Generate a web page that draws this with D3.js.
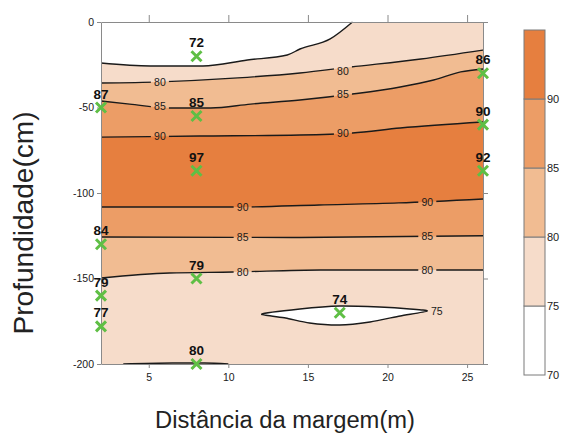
<!DOCTYPE html>
<meta charset="utf-8">
<style>
  body { margin: 0; background: #fff; }
  text { font-family: "Liberation Sans", Arial, sans-serif; }
</style>
<svg width="562" height="443"></svg>
<script src="https://d3js.org/d3.v7.min.js"></script>
<script>

    // contour section of a river bank: distance (m) vs depth (cm), value classes every 5

    // sampled points (green crosses)
    var sampleX     = [2,   8,   8,   8,   26,  26,  26,  2,    2,    2,    8,    17,   8];
    var sampleDepth = [-50, -20, -55, -87, -30, -60, -87, -130, -160, -178, -150, -170, -200];
    var sampleValue = [87,  72,  85,  97,  86,  90,  92,  84,   79,   77,   79,   74,   80];

    // contour lines, [distance, depth]
    var c75Top = [[2, -24], [5.1, -25.7], [8.4, -25.7], [11.2, -22.2], [13.7, -19.3], [14.5, -15.8], [16.4, -9.9], [17.8, 0]];
    var c80Top = [[2, -35.7], [5.7, -35], [10.6, -32.7], [14.5, -29.8], [17.7, -26.3], [22.1, -21.6], [26, -16.4]];
    var c85Top = [[2, -46.2], [3.8, -48], [6.3, -50.3], [8.9, -50.3], [11.4, -48], [14.5, -45.6], [17.8, -42.1], [20.8, -38], [22.9, -33.9], [24.6, -29.2], [26, -27.5]];
    var c90Top = [[2, -67.3], [8.2, -66.7], [14.5, -66.1], [17.8, -64.9], [20.8, -62], [26, -58.5]];
    var c90Bot = [[2, -108.2], [10.7, -108.2], [15.7, -107], [20.7, -105.8], [26, -103.5]];
    var c85Bot = [[2, -125.7], [14, -126], [26, -125]];
    var c80Bot = [[2, -149.7], [6.3, -146.8], [10.3, -146.2], [15.8, -145], [26, -145]];
    var c80Base = [[3.4, -200], [6.5, -199.4], [8.5, -199.4], [10, -200]];
    var c75Lens = [[12.1, -170.8], [14.5, -167.8], [17, -166.1], [19.5, -166.7], [21.4, -167.8], [22.5, -169],
                   [20.8, -171.9], [18.9, -175.4], [17, -177.2], [15.1, -176], [13.6, -173.1]];

    // contour labels [distance, depth, text]
    var contourLabels = [
        [5.7, -35.5, "80"], [17.2, -28.6, "80"],
        [5.7, -49.5, "85"], [17.2, -42.5, "85"],
        [5.7, -67, "90"],   [17.2, -65, "90"],
        [10.9, -108.2, "90"], [22.5, -105.3, "90"],
        [10.9, -125.9, "85"], [22.5, -125.2, "85"],
        [10.9, -146.3, "80"], [22.5, -145, "80"],
        [23.1, -169.4, "75"]
    ];

    var xTicks = [5, 10, 15, 20, 25];
    var yTicks = [0, -50, -100, -150, -200];
    var levels = [70, 75, 80, 85, 90, 95];
    var levelLabels = [70, 75, 80, 85, 90];
    var bandColors = ["#ffffff", "#f6dcca", "#f1bc92", "#ec9d66", "#e67f3f"];

    var svg = d3.select("svg");

    var x = d3.scaleLinear().domain([2, 26]).range([101, 483]);
    var y = d3.scaleLinear().domain([0, -200]).range([22, 364]);

    var line = d3.line()
        .x(function (d) { return x(d[0]); })
        .y(function (d) { return y(d[1]); })
        .curve(d3.curveMonotoneX);

    var lensLine = d3.line()
        .x(function (d) { return x(d[0]); })
        .y(function (d) { return y(d[1]); })
        .curve(d3.curveCardinalClosed.tension(0.3));

    var band = function (v) { return bandColors[levels.indexOf(v)]; };

    var plot = svg.append("g");

    // background = 75-80 class
    plot.append("rect")
        .attr("x", x(2)).attr("y", y(0))
        .attr("width", x(26) - x(2)).attr("height", y(-200) - y(0))
        .attr("fill", band(75));

    // white cap above the first 75 line
    plot.append("path")
        .attr("d", line(c75Top) + "L" + x(2) + "," + y(0) + "Z")
        .attr("fill", band(70));

    // nested bands, edges follow the same curves as the lines
    var fillBetween = function (top, bot, v) {
        plot.append("path")
            .attr("d", line(top) + "L" + line(bot.slice().reverse()).slice(1) + "Z")
            .attr("fill", band(v));
    };
    fillBetween(c80Top, c80Bot, 80);
    fillBetween(c85Top, c85Bot, 85);
    fillBetween(c90Top, c90Bot, 90);

    plot.append("path")
        .attr("d", lensLine(c75Lens))
        .attr("fill", band(70));

    // mask gaps in the lines where the labels sit
    var mask = svg.append("defs").append("mask")
        .attr("id", "gaps")
        .attr("maskUnits", "userSpaceOnUse")
        .attr("x", 0).attr("y", 0).attr("width", 562).attr("height", 443);
    mask.append("rect").attr("width", 562).attr("height", 443).attr("fill", "white");
    mask.selectAll("rect.gap")
        .data(contourLabels)
        .enter().append("rect")
        .attr("class", "gap")
        .attr("x", function (d) { return x(d[0]) - 9; })
        .attr("y", function (d) { return y(d[1]) - 5; })
        .attr("width", 18).attr("height", 10)
        .attr("fill", "black");

    var lines = svg.append("g").attr("mask", "url(#gaps)")
        .attr("fill", "none").attr("stroke", "#1a1a1a").attr("stroke-width", 1.4);

    [c75Top, c80Top, c85Top, c90Top, c90Bot, c85Bot, c80Bot, c80Base].forEach(function (c) {
        lines.append("path").attr("d", line(c));
    });
    lines.append("path").attr("d", lensLine(c75Lens));

    svg.append("g").selectAll("text")
        .data(contourLabels)
        .enter().append("text")
        .attr("x", function (d) { return x(d[0]); })
        .attr("y", function (d) { return y(d[1]); })
        .attr("dy", "0.36em")
        .attr("text-anchor", "middle")
        .attr("font-size", 10.5)
        .attr("fill", "#1a1a1a")
        .text(function (d) { return d[2]; });

    // frame and axes
    var axisStyle = function (g) {
        g.select(".domain").attr("stroke", "#8a8a8a");
        g.selectAll(".tick line").attr("stroke", "#8a8a8a");
        g.selectAll(".tick text").attr("fill", "#1a1a1a").attr("font-size", 10.5)
            .attr("font-family", "Liberation Sans, Arial, sans-serif");
    };
    var plain = function (d) { return String(d); };

    svg.append("g").attr("transform", "translate(0," + y(-200) + ")")
        .call(d3.axisBottom(x).tickValues(xTicks).tickSize(4).tickPadding(6).tickSizeOuter(0).tickFormat(plain))
        .call(axisStyle);
    svg.append("g").attr("transform", "translate(0," + y(0) + ")")
        .call(d3.axisTop(x).tickValues(xTicks).tickSize(7).tickSizeOuter(0).tickFormat(""))
        .call(axisStyle);
    svg.append("g").attr("transform", "translate(" + x(2) + ",0)")
        .call(d3.axisLeft(y).tickValues(yTicks).tickSize(4).tickPadding(3).tickSizeOuter(0).tickFormat(plain))
        .call(axisStyle);
    svg.append("g").attr("transform", "translate(" + x(26) + ",0)")
        .call(d3.axisRight(y).tickValues([0, -100, -150, -200]).tickSize(5).tickSizeOuter(0).tickFormat(""))
        .call(axisStyle);

    // sample points
    var pts = svg.append("g");
    sampleValue.forEach(function (v, i) {
        var px = x(sampleX[i]), py = y(sampleDepth[i]);
        pts.append("path")
            .attr("d", "M" + (px - 5) + "," + (py - 5) + "L" + (px + 5) + "," + (py + 5) +
                       "M" + (px + 5) + "," + (py - 5) + "L" + (px - 5) + "," + (py + 5))
            .attr("stroke", "#5fbf45").attr("stroke-width", 3).attr("fill", "none");
        pts.append("text")
            .attr("x", px).attr("y", py - 9)
            .attr("text-anchor", "middle")
            .attr("font-size", 13.5).attr("font-weight", "bold")
            .attr("fill", "#111")
            .text(v);
    });

    // colour bar
    var ly = d3.scaleLinear().domain([70, 95]).range([375, 30]);
    var legend = svg.append("g");
    legend.selectAll("rect")
        .data(levels.slice(0, -1))
        .enter().append("rect")
        .attr("x", 524).attr("width", 21)
        .attr("y", function (d) { return ly(d + 5); })
        .attr("height", function (d) { return ly(d) - ly(d + 5); })
        .attr("fill", function (d) { return band(d); })
        .attr("stroke", "#7a7a7a").attr("stroke-width", 1);
    legend.selectAll("text")
        .data(levelLabels)
        .enter().append("text")
        .attr("x", 547).attr("y", function (d) { return ly(d); })
        .attr("dy", "0.36em")
        .attr("font-size", 11)
        .attr("fill", "#1a1a1a")
        .text(function (d) { return d; });

    // axis titles
    svg.append("text")
        .attr("x", 285).attr("y", 428)
        .attr("text-anchor", "middle")
        .attr("font-size", 23)
        .attr("fill", "#222")
        .attr("textLength", 260).attr("lengthAdjust", "spacingAndGlyphs")
        .text("Distância da margem(m)");

    svg.append("text")
        .attr("transform", "translate(33,223) rotate(-90)")
        .attr("text-anchor", "middle")
        .attr("font-size", 27)
        .attr("fill", "#222")
        .attr("textLength", 223).attr("lengthAdjust", "spacingAndGlyphs")
        .text("Profundidade(cm)");

</script>
